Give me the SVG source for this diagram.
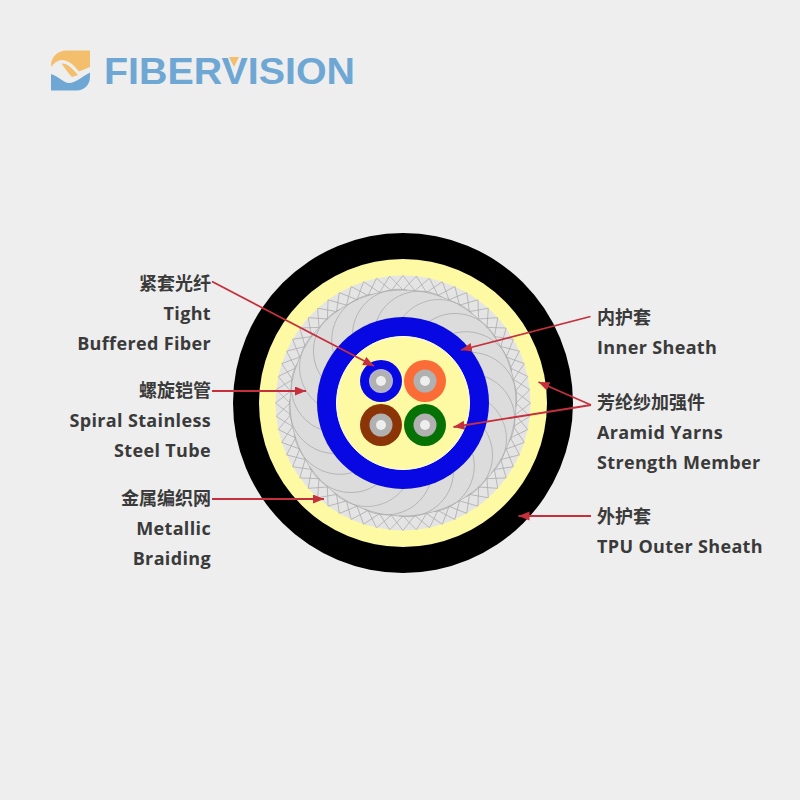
<svg xmlns="http://www.w3.org/2000/svg" xmlns:xlink="http://www.w3.org/1999/xlink" width="800" height="800" viewBox="0 0 800 800">
<style>
.lbl{font-family:"Open Sans","Noto Sans","Noto Sans CJK SC",sans-serif;font-size:18px;font-weight:700;fill:#3a3a3a;letter-spacing:.35px}
.cjk{font-family:"Noto Sans CJK SC","Noto Sans",sans-serif;font-size:18px;font-weight:700;fill:#3a3a3a}
.r{text-anchor:end}
.con{fill:none;stroke:#c5303c;stroke-width:1.8}
.arr{marker-end:url(#ah)}
.thin{fill:none;stroke:#a9a9a9;stroke-width:.7}
.core{fill:#eeeeee}
.grey{fill:#b1b1b1}
</style>
<defs>
<marker id="ah" markerUnits="userSpaceOnUse" markerWidth="12" markerHeight="10" refX="11" refY="4.5" orient="auto"><path d="M0,0L11,4.5L0,9z" fill="#c5303c"/></marker>
<path id="x" class="thin" d="M0,-113L13.300,-126.800M0,-113L-13.300,-126.800"/>
<g id="x2"><use xlink:href="#x"/><use xlink:href="#x" transform="rotate(6)"/></g>
<g id="x4"><use xlink:href="#x2"/><use xlink:href="#x2" transform="rotate(12)"/></g>
<g id="x12"><use xlink:href="#x4"/><use xlink:href="#x4" transform="rotate(24)"/><use xlink:href="#x4" transform="rotate(48)"/></g>
<path id="s" class="thin" d="M0,-86A46,46 0 0 1 69.600,-89"/>
<g id="s2"><use xlink:href="#s"/><use xlink:href="#s" transform="rotate(18)"/></g>
<g id="s4"><use xlink:href="#s2"/><use xlink:href="#s2" transform="rotate(36)"/></g>
</defs>
<rect width="800" height="800" fill="#eeeeee"/>
<g id="logo">
<path fill="#f3bf6c" d="M90,50.500V67L79,71.500C74,65 68,60 62,60C58,60 54,63 51,67V66C51,57 57,50.500 67,50.500z"/>
<path fill="#f3bf6c" d="M61.500,63.500C67,63 72,68 78,75L72,77C68,73 64,67 61.500,63.500z"/>
<path fill="#6fa7d4" d="M51,74C58,76 64,83 69,83C76,83 83,76 90,72.500V77C90,85 84,90.500 77,90.500H51z"/>
<text x="104" y="84" textLength="251" lengthAdjust="spacingAndGlyphs" style="font-family:'Liberation Sans',sans-serif;font-size:37px;font-weight:700;fill:#6fa7d4">FIBERVISION</text>
<path fill="#f3bf6c" d="M229,57H239L234,67z"/>
</g>
<g id="cable" transform="translate(403 403)">
<circle r="170" fill="#000"/>
<circle r="144" fill="#fefaa4"/>
<circle id="braid" r="127.500" fill="#e4e4e4"/>
<circle r="113" fill="#dcdcdc" stroke="#a9a9a9" stroke-width=".7"/>
<use xlink:href="#x12"/><use xlink:href="#x12" transform="rotate(72)"/><use xlink:href="#x12" transform="rotate(144)"/><use xlink:href="#x12" transform="rotate(216)"/><use xlink:href="#x12" transform="rotate(288)"/>
<g id="spiral"><use xlink:href="#s4"/><use xlink:href="#s4" transform="rotate(72)"/><use xlink:href="#s4" transform="rotate(144)"/><use xlink:href="#s4" transform="rotate(216)"/><use xlink:href="#s4" transform="rotate(288)"/></g>
<circle id="inner-sheath" r="86" fill="#0808e2"/>
<circle r="66.500" fill="#fefaa4" stroke="#fff" stroke-width="1"/>
</g>
<g id="fiber-blue"><circle cx="381" cy="381" r="21" fill="#0808e2"/><circle cx="381" cy="381" r="12" fill="#b1b1d8"/><circle cx="381" cy="381" r="10.500" class="grey"/><circle cx="381" cy="381" r="5" class="core"/></g>
<g id="fiber-orange"><circle cx="425" cy="381" r="21" fill="#fb6c36"/><circle cx="425" cy="381" r="11.500" class="grey"/><circle cx="425" cy="381" r="5" class="core"/></g>
<g id="fiber-brown"><circle cx="381" cy="425" r="21" fill="#8b3408"/><circle cx="381" cy="425" r="11.500" class="grey"/><circle cx="381" cy="425" r="5" class="core"/></g>
<g id="fiber-green"><circle cx="425" cy="425" r="21" fill="#067206"/><circle cx="425" cy="425" r="11.500" class="grey"/><circle cx="425" cy="425" r="5" class="core"/></g>
<g id="connectors">
<path class="con arr" d="M212,281.500L374,366"/>
<path class="con arr" d="M212,391H306"/>
<path class="con arr" d="M212,499H324"/>
<path class="con arr" d="M590.500,316.500L461,350"/>
<path class="con arr" d="M591,405L538.500,382"/>
<path class="con arr" d="M591,405L453.500,427"/>
<path class="con arr" d="M591,516H518.500"/>
</g>
<g id="label-tight"><text class="cjk r" x="211" y="290">紧套光纤</text><text class="lbl r" x="211" y="320">Tight</text><text class="lbl r" x="211" y="350">Buffered Fiber</text></g>
<g id="label-spiral"><text class="cjk r" x="211" y="397">螺旋铠管</text><text class="lbl r" x="211" y="427">Spiral Stainless</text><text class="lbl r" x="211" y="457">Steel Tube</text></g>
<g id="label-braid"><text class="cjk r" x="211" y="505">金属编织网</text><text class="lbl r" x="211" y="535">Metallic</text><text class="lbl r" x="211" y="565">Braiding</text></g>
<g id="label-inner"><text class="cjk" x="597" y="324">内护套</text><text class="lbl" x="597" y="354">Inner Sheath</text></g>
<g id="label-aramid"><text class="cjk" x="597" y="409">芳纶纱加强件</text><text class="lbl" x="597" y="439">Aramid Yarns</text><text class="lbl" x="597" y="469">Strength Member</text></g>
<g id="label-outer"><text class="cjk" x="597" y="523">外护套</text><text class="lbl" x="597" y="553">TPU Outer Sheath</text></g>
</svg>
